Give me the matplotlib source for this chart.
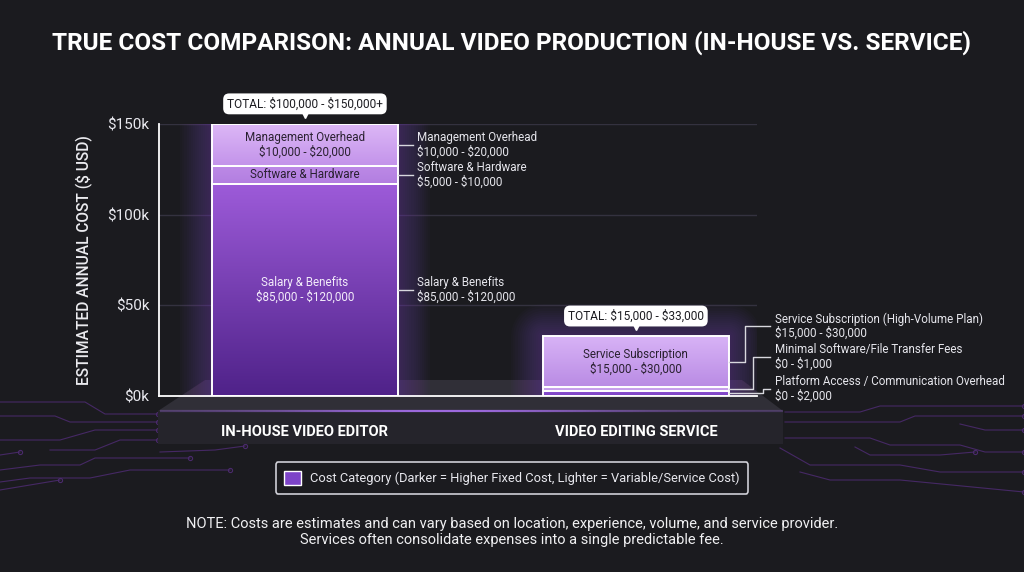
import numpy as np
import matplotlib.pyplot as plt
from matplotlib.colors import LinearSegmentedColormap
from matplotlib.patches import Polygon, Patch
from matplotlib import patheffects as pe
from matplotlib.transforms import offset_copy

plt.rcParams['font.family'] = ['Roboto', 'DejaVu Sans']
plt.rcParams['text.parse_math'] = False

# ---- data ($k, stacked bottom -> top) ----
categories = ["IN-HOUSE VIDEO EDITOR", "VIDEO EDITING SERVICE"]

inhouse_names = ["Salary & Benefits", "Software & Hardware", "Management Overhead"]
inhouse_ranges = ["$85,000 - $120,000", "$5,000 - $10,000", "$10,000 - $20,000"]
inhouse_values = [117, 10, 23]

service_names = ["Platform Access / Communication Overhead",
                 "Minimal Software/File Transfer Fees",
                 "Service Subscription (High-Volume Plan)"]
service_short = ["", "", "Service Subscription"]
service_ranges = ["$0 - $2,000", "$0 - $1,000", "$15,000 - $30,000"]
service_values = [3, 2, 28]

totals = ["TOTAL: $100,000 - $150,000+", "TOTAL: $15,000 - $33,000"]
yticks = [0, 50, 100, 150]
ytick_labels = ["$0k", "$50k", "$100k", "$150k"]

# ---- styling ----
BG = "#1b1b1f"
DARK_TXT = "#2a2131"
LBL = 8.4
inhouse_colors = [("#9d5bd9", "#4f2289"), ("#bd8ae7", "#b27ee0"), ("#dcb7f6", "#c393ea")]
service_colors = [("#8f55d4", "#7a41c2"), ("#cba4ee", "#c39ae9"), ("#d8b3f6", "#b98be4")]
inhouse_inner = [(inhouse_names[0] + "\n" + inhouse_ranges[0], "#f3ecfa"),
                 (inhouse_names[1], DARK_TXT),
                 (inhouse_names[2] + "\n" + inhouse_ranges[2], DARK_TXT)]
service_inner = [("", DARK_TXT), ("", DARK_TXT),
                 (service_short[2] + "\n" + service_ranges[2], DARK_TXT)]

W, H = 1024, 572
fig = plt.figure(figsize=(W / 100, H / 100), dpi=100, facecolor=BG)

# background layer in pixel coordinates
bg = fig.add_axes([0, 0, 1, 1], zorder=0)
bg.set_xlim(0, W)
bg.set_ylim(H, 0)
bg.axis("off")
bg.set_facecolor(BG)

# circuit decoration
circ = "#4a2a6c"
paths = [
    [(0, 402), (85, 402), (105, 414), (158, 414)],
    [(0, 416), (55, 416), (70, 422), (158, 422)],
    [(0, 440), (60, 440), (95, 430), (158, 430)],
    [(50, 450), (95, 450), (120, 440), (158, 440)],
    [(0, 455), (20, 452)],
    [(0, 470), (40, 465), (80, 465), (95, 458), (190, 458)],
    [(0, 482), (30, 478), (90, 478), (130, 470), (230, 470)],
    [(0, 490), (60, 480)],
    [(160, 452), (215, 450), (245, 446)],
    [(785, 412), (860, 412), (880, 406), (1024, 406)],
    [(785, 422), (900, 422), (915, 416), (1024, 416)],
    [(785, 438), (870, 438), (890, 445), (960, 445), (985, 452), (1024, 452)],
    [(855, 447), (870, 455), (940, 455), (975, 452)],
    [(780, 448), (810, 465), (900, 465), (940, 472), (1024, 472)],
    [(800, 472), (830, 480), (900, 480), (1024, 492)],
    [(960, 424), (985, 430), (1024, 430)],
]
for p in paths:
    xs, ys = zip(*p)
    bg.plot(xs, ys, color=circ, lw=0.8, alpha=0.9, zorder=1)
    bg.plot(xs[-1], ys[-1], "o", ms=3, mfc="none", mec=circ, mew=0.8, zorder=1)

# platform under the bars
bg.add_patch(Polygon([(205, 380), (742, 380), (783, 411), (158, 411)],
                     closed=True, fc="#302f37", ec="none", zorder=2))
bg.add_patch(Polygon([(158, 411), (783, 411), (783, 444), (158, 444)],
                     closed=True, fc="#25242b", ec="none", zorder=2))
gx = np.linspace(160, 783, 200)
for i in range(len(gx) - 1):
    a = np.exp(-((gx[i] - 440) / 180) ** 2)
    bg.plot(gx[i:i + 2], [411, 411], color="#a46ee8", lw=1.6, alpha=0.25 + 0.7 * a,
            solid_capstyle="butt", zorder=3)

# ---- main chart ----
ax = fig.add_axes([159 / W, 1 - 396 / H, (757 - 159) / W, (396 - 124) / H], zorder=2)
ax.set_facecolor("none")
x = np.arange(len(categories))
bw = 0.562

stacks = [(inhouse_values, inhouse_colors, inhouse_inner),
          (service_values, service_colors, service_inner)]

grad = np.linspace(0, 1, 128).reshape(-1, 1)
for xi, (vals, cols, inner) in zip(x, stacks):
    total = sum(vals)
    glow = [pe.Stroke(linewidth=lw, foreground="#9250e6", alpha=0.022, joinstyle="round")
            for lw in np.arange(4, 48, 3)]
    ax.bar(xi, total, bw, color="#7b3fc0", zorder=1, path_effects=glow)
    bottom = 0
    for v, (ctop, cbot), (txt, tcol) in zip(vals, cols, inner):
        bar = ax.bar(xi, v, bw, bottom=bottom, facecolor="none", edgecolor="white",
                     linewidth=1.4, zorder=4)[0]
        cmap = LinearSegmentedColormap.from_list("seg", [cbot, ctop])
        im = ax.imshow(grad, cmap=cmap, origin="lower", aspect="auto", zorder=3,
                       extent=[xi - bw / 2, xi + bw / 2, bottom, bottom + v])
        im.set_clip_path(bar)
        if txt:
            ax.text(xi, bottom + v / 2, txt, ha="center", va="center", fontsize=LBL,
                    color=tcol, linespacing=1.15, zorder=5)
        bottom += v

# total callouts
for xi, vals, lab in zip(x, [inhouse_values, service_values], totals):
    tr = offset_copy(ax.transData, fig=fig, x=0, y=8, units="points")
    ax.plot(xi, sum(vals), marker="v", ms=7, color="white", transform=tr,
            clip_on=False, zorder=6)
    ax.annotate(lab, xy=(xi, sum(vals)), xytext=(0, 14.5), textcoords="offset points",
                ha="center", va="center", fontsize=8.6, color="#1d1d22", zorder=7,
                bbox=dict(boxstyle="round,pad=0.32,rounding_size=0.5", fc="white", ec="none"))

# leader labels, in-house
edge = x[0] + bw / 2
bottom = 0
for v, name, rng in zip(inhouse_values, inhouse_names, inhouse_ranges):
    yc = bottom + v / 2
    ax.plot([edge, edge + 0.045], [yc, yc], color="#d8d8de", lw=1, clip_on=False, zorder=5)
    ax.text(edge + 0.057, yc, name + "\n" + rng, ha="left", va="center", fontsize=LBL,
            color="#e6e6ec", linespacing=1.1, clip_on=False)
    bottom += v

# leader labels, service (elbow lines)
edge = x[1] + bw / 2
label_y = [3.9, 21.5, 38.6]
elbow_x = [1.384, 1.353, 1.329]
bottom = 0
for v, name, rng, ly, ex in zip(service_values, service_names, service_ranges, label_y, elbow_x):
    yc = bottom + v / 2
    ax.plot([edge, ex, ex, 1.405], [yc, yc, ly, ly], color="#d8d8de", lw=1,
            clip_on=False, zorder=5)
    ax.text(1.42, ly, name + "\n" + rng, ha="left", va="center", fontsize=LBL,
            color="#e6e6ec", linespacing=1.1, clip_on=False)
    bottom += v

ax.set_xlim(-0.441, 1.366)
ax.set_ylim(0, 150)
ax.set_yticks(yticks, ytick_labels)
ax.set_xticks(x, categories)
ax.tick_params(axis="y", length=0, pad=7, labelsize=11, labelcolor="#e8e8ee")
ax.tick_params(axis="x", length=0, pad=21, labelsize=10.5, labelcolor="white")
for t in ax.get_xticklabels():
    t.set_fontweight("bold")
ax.grid(axis="y", color="#34323f", lw=1)
ax.set_axisbelow(True)
for s in ("top", "right"):
    ax.spines[s].set_visible(False)
for s in ("left", "bottom"):
    ax.spines[s].set_color("white")
    ax.spines[s].set_linewidth(1.3)
    ax.spines[s].set_zorder(5)
ax.set_ylabel("ESTIMATED ANNUAL COST ($ USD)", fontsize=11.2, color="#ececf0",
              fontweight="medium", labelpad=10)

fig.text(0.5, 1 - 43 / H, "TRUE COST COMPARISON: ANNUAL VIDEO PRODUCTION (IN-HOUSE VS. SERVICE)",
         ha="center", va="center", fontsize=17.6, fontweight="bold", color="white")

leg = fig.legend(handles=[Patch(facecolor="#7d44c8", edgecolor="white",
                                label="Cost Category (Darker = Higher Fixed Cost, Lighter = Variable/Service Cost)")],
                 loc="center", bbox_to_anchor=(0.5, 1 - 478 / H), frameon=True, facecolor=BG,
                 edgecolor="#cfcfd6", fontsize=9.3, labelcolor="#e8e8ee", handlelength=1.3,
                 handleheight=1.3, borderpad=0.65, handletextpad=0.7, borderaxespad=0,
                 fancybox=True, framealpha=1)
leg.get_frame().set_linewidth(1.2)

fig.text(0.5, 1 - 532 / H,
         "NOTE: Costs are estimates and can vary based on location, experience, volume, and service provider.\n"
         "Services often consolidate expenses into a single predictable fee.",
         ha="center", va="center", fontsize=10.5, color="#f0f0f2", linespacing=1.25)

fig.savefig("out.png", dpi=100, facecolor=BG)
